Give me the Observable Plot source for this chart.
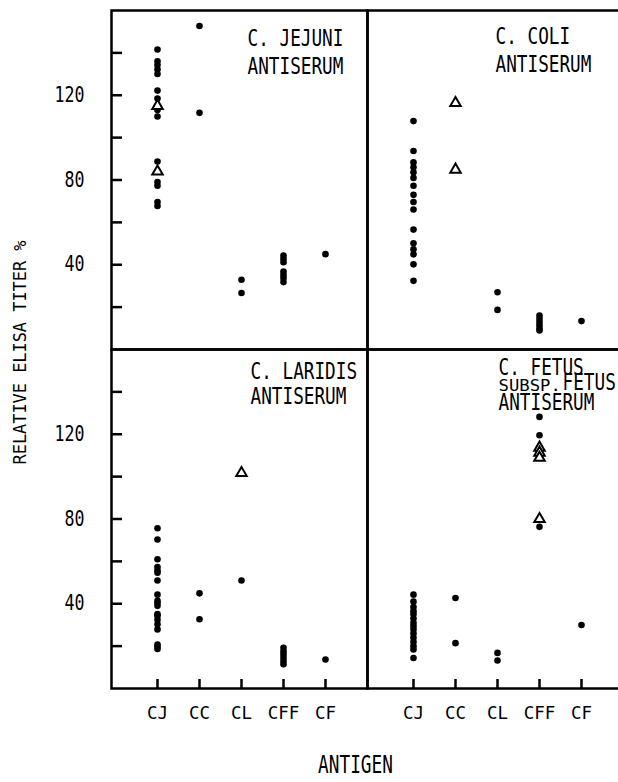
<!DOCTYPE html>
<html><head><meta charset="utf-8">
<script src="https://cdn.jsdelivr.net/npm/d3@7"></script>
<script src="https://cdn.jsdelivr.net/npm/@observablehq/plot@0.6"></script>
<style>
html,body{margin:0;padding:0;background:#fff;overflow:hidden;}
#wrap{width:618px;height:782px;overflow:hidden;}
</style></head><body><div id="wrap"></div>
<script>
const antigens = ["CJ", "CC", "CL", "CFF", "CF"];
// each list holds the values for CJ, CC, CL, CFF, CF in that order
const jejuniDots = [[141.6,136,134.3,132.2,130,122.2,118.5,113,110,88.7,79,77.3,69.6,67.7],[152.7,111.7],[32.9,26.7],[44.3,42.7,41.2,36.8,35.2,33.7,31.8],[45]];
const jejuniTriangles = [[115,84],[],[],[],[]];
const coliDots = [[107.8,93.7,88.3,86,83.6,81,77.3,73,69.6,66.1,56.6,50.1,47.3,44.9,40.2,32.4],[],[27,18.7],[16,14.5,13,11.5,10,9],[13.4]];
const coliTriangles = [[],[116.3,84.9],[],[],[]];
const laridisDots = [[75.6,70.3,61,57.3,55.7,54.6,51,44.3,41.4,40.3,39,35.1,34.3,32.4,30.3,27.9,20.8,19.7,18.7],[44.9,32.7],[51],[19.2,17.5,16,14.5,13,11.5],[13.7]];
const laridisTriangles = [[],[],[101.7],[],[]];
const fetusDots = [[44.3,41,38.5,36.5,35,33,31,29.5,28,26,24,22,20,18.4,14.4],[42.7,21.4],[16.8,13.2],[128.2,119.5,76.3],[30]];
const fetusTriangles = [[],[],[],[113.7,111.3,108.9,80],[]];
const yTicks = [20, 40, 60, 80, 100, 120, 140];
const yTickLabels = [40, 80, 120];
const yTitle = "RELATIVE ELISA TITER %";
const xTitle = "ANTIGEN";

const panels = [
  {col: "L", row: "T", dots: jejuniDots, tris: jejuniTriangles},
  {col: "R", row: "T", dots: coliDots, tris: coliTriangles},
  {col: "L", row: "B", dots: laridisDots, tris: laridisTriangles},
  {col: "R", row: "B", dots: fetusDots, tris: fetusTriangles}
];
const dotRows = [], triRows = [];
for (const p of panels) {
  antigens.forEach((a, i) => {
    p.dots[i].forEach(v => dotRows.push({col: p.col, row: p.row, antigen: a, value: v}));
    p.tris[i].forEach(v => triRows.push({col: p.col, row: p.row, antigen: a, value: v}));
  });
}
const rows = ["T", "B"], cols = ["L", "R"];
const yTickRows = rows.flatMap(r => yTicks.map(v => ({row: r, v})));
const yLabelRows = rows.flatMap(r => yTickLabels.map(v => ({row: r, v})));
const xRows = cols.flatMap(c => antigens.map(a => ({col: c, antigen: a})));

const FONT = "DejaVu Sans Mono";
const labelOpts = {fx: "col", fy: "row", text: "t", frameAnchor: "top-left", textAnchor: "start", lineAnchor: "top", fontFamily: FONT, fontSize: 23.3, fill: "black", ariaDescription: "panel-label"};

const chart = Plot.plot({
  width: 623, height: 782,
  marginLeft: 111, marginRight: 0, marginTop: 10, marginBottom: 94,
  style: {background: "white", maxWidth: "none", overflow: "visible"},
  fx: {domain: cols, padding: 0, axis: null},
  fy: {domain: rows, padding: 0, axis: null},
  x: {type: "point", domain: antigens, padding: 1, align: 0.52, axis: null},
  y: {domain: [0, 160], axis: null},
  marks: [
    Plot.ruleY(yTickRows, {y: "v", fx: () => "L", fy: "row", insetRight: 245, stroke: "black", strokeWidth: 2.5}),
    Plot.ruleX(xRows, {x: "antigen", fx: "col", fy: () => "B", insetTop: 330, stroke: "black", strokeWidth: 2.5}),
    Plot.frame({stroke: "black", strokeWidth: 2.5}),
    Plot.dot(dotRows, {x: "antigen", y: "value", fx: "col", fy: "row", r: 3.3, fill: "black"}),
    Plot.dot(triRows, {x: "antigen", y: "value", fx: "col", fy: "row", symbol: "triangle", r: 3.9, fill: "white", stroke: "black", strokeWidth: 2}),
    Plot.text(yLabelRows, {y: "v", fx: () => "L", fy: "row", text: d => String(d.v), frameAnchor: "left", textAnchor: "end", lineAnchor: "middle", dx: -27, fontFamily: FONT, fontSize: 20.5, fill: "black", ariaDescription: "y-tick-label"}),
    Plot.text(xRows, {x: "antigen", fx: "col", fy: () => "B", text: "antigen", frameAnchor: "bottom", lineAnchor: "middle", dy: 25, fontFamily: FONT, fontSize: 17.5, fill: "black", ariaDescription: "x-tick-label"}),
    Plot.text([{col: "L", row: "T", t: "C. JEJUNI\nANTISERUM"}], {...labelOpts, dx: 136, dy: 15, lineHeight: 1.21}),
    Plot.text([{col: "R", row: "T", t: "C. COLI\nANTISERUM"}], {...labelOpts, dx: 128, dy: 13, lineHeight: 1.21}),
    Plot.text([{col: "L", row: "B", t: "C. LARIDIS\nANTISERUM"}], {...labelOpts, dx: 139, dy: 11, lineHeight: 1.1}),
    Plot.text([{col: "R", row: "B", t: "C. FETUS"}], {...labelOpts, dx: 131, dy: 9}),
    Plot.text([{col: "R", row: "B", t: "SUBSP."}], {...labelOpts, dx: 131, dy: 31, fontSize: 15, ariaDescription: "small-label"}),
    Plot.text([{col: "R", row: "B", t: "FETUS"}], {...labelOpts, dx: 195, dy: 24}),
    Plot.text([{col: "R", row: "B", t: "ANTISERUM"}], {...labelOpts, dx: 131, dy: 44}),
    Plot.text([{col: "L", row: "T", t: yTitle}], {fx: "col", fy: "row", text: "t", frameAnchor: "bottom-left", rotate: -90, textAnchor: "middle", lineAnchor: "middle", dx: -91, dy: 3, fontFamily: FONT, fontSize: 18, fill: "black", ariaDescription: "y-title"}),
    Plot.text([{col: "L", row: "B", t: xTitle}], {fx: "col", fy: "row", text: "t", frameAnchor: "bottom-right", textAnchor: "middle", lineAnchor: "middle", dx: -12, dy: 77, fontFamily: FONT, fontSize: 24, fill: "black", ariaDescription: "x-title"})
  ]
});
document.getElementById("wrap").appendChild(chart);

// horizontally condense a text mark's glyphs, like the narrow typewriter lettering of the original
function condense(label, sx) {
  chart.querySelectorAll(`g[aria-description="${label}"] text`).forEach(t => {
    const tr = t.getAttribute("transform") || "";
    t.setAttribute("transform", (tr + ` scale(${sx},1)`).trim());
  });
}
condense("panel-label", 0.76);
condense("small-label", 1.15);
condense("y-tick-label", 0.81);
condense("x-tick-label", 1.0);
condense("y-title", 0.94);
condense("x-title", 0.74);
</script>
</body></html>
